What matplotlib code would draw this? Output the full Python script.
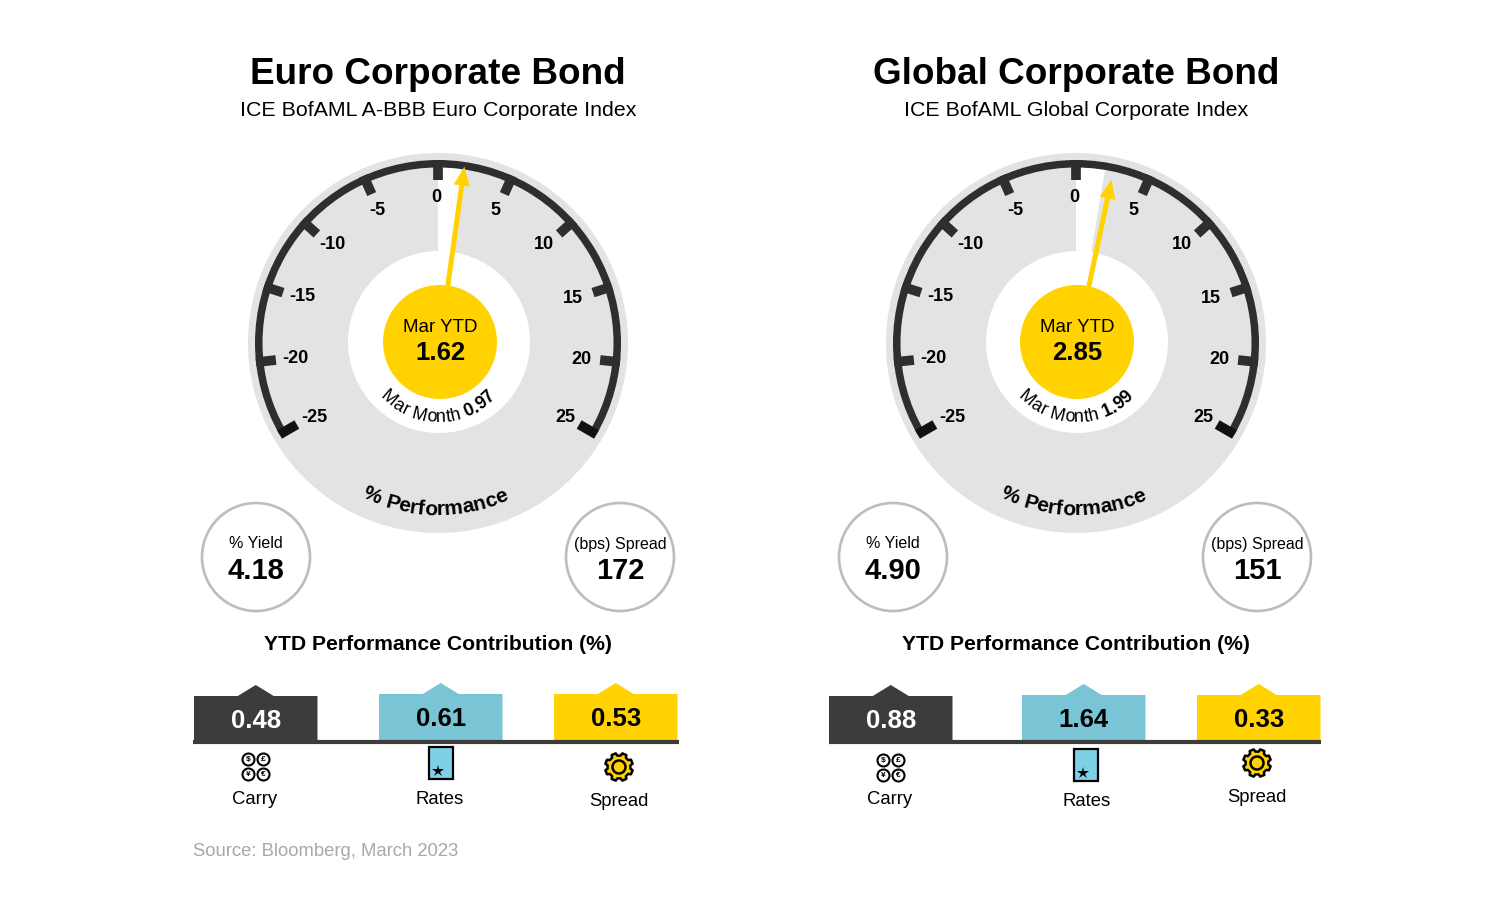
import numpy as np
from matplotlib import pyplot as plt
from matplotlib.patches import Circle, Wedge, Rectangle, Polygon, FancyArrow
from matplotlib.font_manager import FontProperties, findfont, get_font
from matplotlib.ft2font import LoadFlags

plt.rcParams['font.family'] = ['Liberation Sans', 'DejaVu Sans']

titles = ['Euro Corporate Bond', 'Global Corporate Bond']
subtitles = ['ICE BofAML A-BBB Euro Corporate Index', 'ICE BofAML Global Corporate Index']
ytd = [1.62, 2.85]
month = [0.97, 1.99]
yields = [4.18, 4.90]
spreads = [172, 151]
carry = [0.48, 0.88]
rates = [0.61, 1.64]
spread_contrib = [0.53, 0.33]
gauge_ticks = [-25, -20, -15, -10, -5, 0, 5, 10, 15, 20, 25]
contrib_labels = ['Carry', 'Rates', 'Spread']

GREY = '#e3e3e3'
DARK = '#3c3d3a'
YELLOW = '#ffd200'
TEAL = '#7ac5d5'
DEG_PER_UNIT = 4.8

# layout, pixels
gauge_x = [438, 1076]
hub_x = [440, 1077]
circle_x = [[256, 620], [893, 1257]]
bar_left = [[194, 379, 554], [829, 1022, 1197]]
bar_top = [[696, 694, 694], [696, 695, 695]]
line_x = [[193, 679], [829, 1321]]
icon_x = [[256, 441, 619], [891, 1086, 1257]]
icon_y = [[767, 763, 767], [768, 765, 763]]
label_x = [[255, 440, 619], [890, 1087, 1257]]
label_y = [[799, 799, 802], [799, 801, 798]]
# nudges for the gauge labels, same order as gauge_ticks
tick_dx = [1, 1, 1, 1, -2, -2, -1, -1, -2, 0, 3]
tick_dy = [2, 0, -2, -2, -1, -1, -1, -2, 0, 1, 2]
# where the needle is drawn and where the white sector stops, in gauge degrees
needle_deg = [7.9, 12.0]
needle_len = [177, 166]
sector_deg = [7.8, 9.5]


def angle(v):
  return v * DEG_PER_UNIT


def polar(cx, cy, r, a):
  return cx + r * np.sin(np.radians(a)), cy - r * np.cos(np.radians(a))


def curvedText(ax, cx, cy, r, mid, parts, size, spacing=1.0):
  # parts are (text, weight); set one glyph at a time along a bottom arc
  glyphs = []
  for s, weight in parts:
    font = get_font(findfont(FontProperties(family='Liberation Sans', weight=weight)))
    font.set_size(size, 100)
    for c in s:
      adv = font.load_char(ord(c), flags=LoadFlags.NO_HINTING).linearHoriAdvance / 65536 * spacing
      glyphs.append((c, weight, adv))
  total = sum(g[2] for g in glyphs)
  pos = -total / 2
  for c, weight, adv in glyphs:
    a = mid + np.degrees((pos + adv / 2) / r)
    x = cx + r * np.sin(np.radians(a))
    y = cy + r * np.cos(np.radians(a))
    ax.text(x, y, c, fontsize=size, weight=weight, rotation=a, ha='center',
            va='baseline', rotation_mode='anchor', color='black')
    pos += adv


def coins(ax, x, y):
  for dx, dy, s in [(-7.5, -7.5, '$'), (7.5, -7.5, '£'), (-7.5, 7.5, '¥'), (7.5, 7.5, '€')]:
    ax.add_patch(Circle((x + dx, y + dy), 6, fc='white', ec='black', lw=1.5))
    ax.text(x + dx, y + dy, s, fontsize=6, weight='bold', ha='center', va='center')


def book(ax, x, y):
  ax.add_patch(Rectangle((x - 12, y - 16), 24, 32, fc='#7dd0e6', ec='black', lw=1.6))
  ax.plot([x - 3], [y + 8], marker='*', ms=9, color='black', mew=0)


def gear(ax, x, y):
  n = 8
  pts = []
  for i in range(n):
    a = 2 * np.pi * i / n + np.pi / 8
    w = 2 * np.pi / n
    for off, r in [(-0.32, 11.5), (-0.2, 14), (0.2, 14), (0.32, 11.5)]:
      t = a + off * w
      pts.append((x + r * np.cos(t), y + r * np.sin(t)))
  ax.add_patch(Polygon(pts, closed=True, fc=YELLOW, ec='black', lw=1.8, joinstyle='round'))
  ax.add_patch(Circle((x, y), 6.5, fc=YELLOW, ec='black', lw=1.8))


def drawPanel(ax, i):
  cx = gauge_x[i]
  hx = hub_x[i]
  cy = 343
  ax.text(cx, 74, titles[i], fontsize=26.6, weight='bold', ha='center', va='center')
  ax.text(cx, 110, subtitles[i], fontsize=15.4, ha='center', va='center')

  # gauge body
  ax.add_patch(Circle((cx, cy), 190, fc=GREY, ec='none'))
  ax.add_patch(Wedge((cx, cy), 178, -90, sector_deg[i] - 90, fc='white', ec='none'))
  ax.add_patch(Circle((cx + 1, 342), 91, fc='white', ec='none'))
  ax.add_patch(Wedge((cx, cy), 183, angle(-25) - 90, angle(25) - 90, width=7.5, fc='#2e2e2e', ec='none'))
  for k, t in enumerate(gauge_ticks):
    a = angle(t)
    x0, y0 = polar(cx, cy, 183, a)
    x1, y1 = polar(cx, cy, 163, a)
    col = '#111111' if abs(t) == 25 else '#2e2e2e'
    ax.plot([x0, x1], [y0, y1], color=col, lw=7, solid_capstyle='butt')
    lx, ly = polar(cx, cy, 144, a)
    ax.text(lx + tick_dx[k], ly + tick_dy[k], str(t), fontsize=13, weight='bold', ha='center', va='center')

  # needle and hub
  tx, ty = polar(hx, 342, needle_len[i], needle_deg[i])
  ax.add_patch(FancyArrow(hx, 342, tx - hx, ty - 342, width=5, head_width=16, head_length=19,
                          length_includes_head=True, fc=YELLOW, ec='none'))
  ax.add_patch(Circle((hx, 342), 57, fc=YELLOW, ec='none'))
  ax.text(hx, 327, 'Mar YTD', fontsize=13.5, ha='center', va='center')
  ax.text(hx, 353, '%.2f' % ytd[i], fontsize=18.5, weight='bold', ha='center', va='center')
  curvedText(ax, cx, 342, 80, 0, [('Mar Month ', 'normal'), ('%.2f' % month[i], 'bold')], 13, 1.03)
  curvedText(ax, cx, 343, 172, -1, [('% Performance', 'bold')], 15)

  # yield and spread circles
  tops = ['% Yield', '(bps) Spread']
  vals = ['%.2f' % yields[i], '%d' % spreads[i]]
  for j in range(2):
    x = circle_x[i][j]
    ax.add_patch(Circle((x, 557), 54, fc='white', ec='#bdbdbd', lw=1.9))
    ax.text(x, 544, tops[j], fontsize=11.5, ha='center', va='center')
    ax.text(x, 571, vals[j], fontsize=21, weight='bold', ha='center', va='center')

  ax.text(cx, 645, 'YTD Performance Contribution (%)', fontsize=15.2, weight='bold', ha='center', va='center')

  # contribution boxes
  values = [carry[i], rates[i], spread_contrib[i]]
  fills = [DARK, TEAL, YELLOW]
  text_cols = ['white', 'black', 'black']
  for j in range(3):
    x = bar_left[i][j]
    top = bar_top[i][j]
    w = 123.5
    mid = x + w / 2
    ax.add_patch(Polygon([(x, 742), (x, top), (mid - 18, top), (mid, top - 11), (mid + 18, top),
                          (x + w, top), (x + w, 742)], closed=True, fc=fills[j], ec='none'))
    ax.text(mid, top + 25, '%.2f' % values[j], fontsize=18.5, weight='bold', color=text_cols[j],
            ha='center', va='center')
  ax.plot(line_x[i], [742, 742], color=DARK, lw=3, solid_capstyle='butt')

  coins(ax, icon_x[i][0], icon_y[i][0])
  book(ax, icon_x[i][1], icon_y[i][1])
  gear(ax, icon_x[i][2], icon_y[i][2])
  for j in range(3):
    ax.text(label_x[i][j], label_y[i][j], contrib_labels[j], fontsize=13.3, ha='center', va='center')


if(__name__ == "__main__"):
  fig = plt.figure(figsize=(15, 9), dpi=100)
  ax = fig.add_axes([0, 0, 1, 1])
  ax.set_xlim(0, 1500)
  ax.set_ylim(900, 0)
  ax.axis('off')
  for i in range(2):
    drawPanel(ax, i)
  ax.text(193, 851, 'Source: Bloomberg, March 2023', fontsize=13.3, color='#a8a8a8', ha='left', va='center')
  fig.savefig('out.png', dpi=100)
